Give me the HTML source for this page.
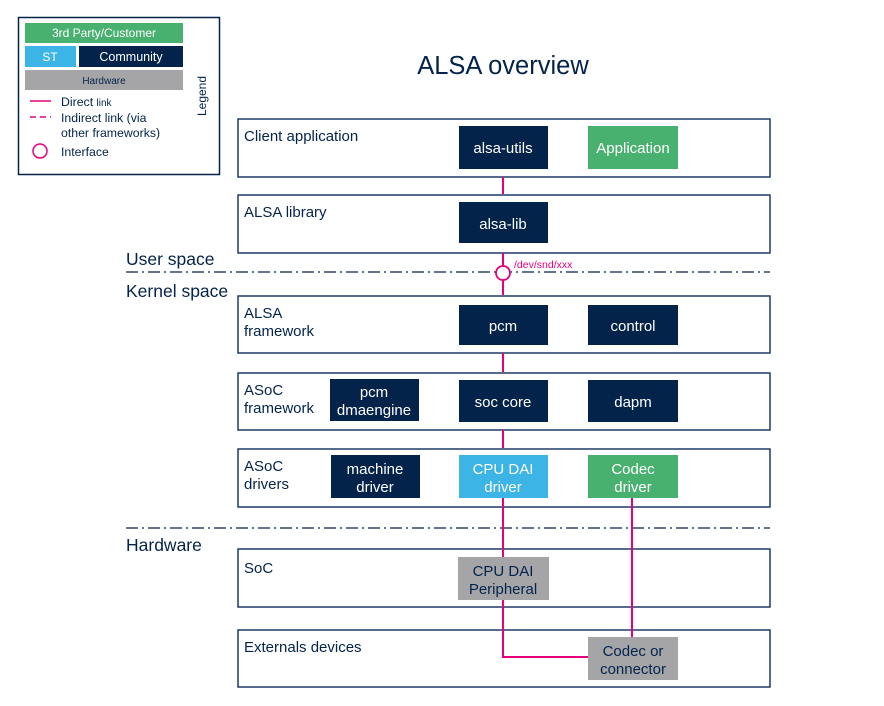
<!DOCTYPE html>
<html><head><meta charset="utf-8"><style>
body{margin:0;background:#fff;width:884px;height:701px;overflow:hidden}
svg text{font-family:"Liberation Sans",Arial,sans-serif}
</style></head><body>
<svg width="884" height="701" viewBox="0 0 884 701" xmlns="http://www.w3.org/2000/svg">
<!-- legend -->
<rect x="18.5" y="17.5" width="201" height="157" fill="#fff" stroke="#03234b" stroke-width="1.5"/>
<rect x="25" y="23" width="158" height="20" fill="#49b170"/>
<text x="104" y="37" font-size="12" fill="#fff" text-anchor="middle">3rd Party/Customer</text>
<rect x="25" y="46" width="51" height="21" fill="#3cb4e6"/>
<text x="50" y="61" font-size="12" fill="#fff" text-anchor="middle">ST</text>
<rect x="79" y="46" width="104" height="21" fill="#03234b"/>
<text x="131" y="61" font-size="12.5" fill="#fff" text-anchor="middle">Community</text>
<rect x="25" y="70" width="158" height="20" fill="#a5a5a8"/>
<text x="104" y="84" font-size="10" fill="#03234b" text-anchor="middle">Hardware</text>
<line x1="30" y1="101" x2="51" y2="101" stroke="#e6007e" stroke-width="1.5"/>
<text x="61" y="106" font-size="12.3" fill="#03234b">Direct <tspan font-size="10">link</tspan></text>
<line x1="30" y1="117" x2="51" y2="117" stroke="#e6007e" stroke-width="1.5" stroke-dasharray="6,4"/>
<text x="61" y="122" font-size="12.3" fill="#03234b">Indirect link (via</text>
<text x="61" y="137" font-size="12.3" fill="#03234b">other frameworks)</text>
<circle cx="40" cy="151" r="7" fill="none" stroke="#e6007e" stroke-width="1.5"/>
<text x="61" y="156" font-size="12.3" fill="#03234b">Interface</text>
<text transform="translate(206,96) rotate(-90)" font-size="12" fill="#03234b" text-anchor="middle">Legend</text>

<text x="503" y="74" font-size="25.5" fill="#03234b" text-anchor="middle">ALSA overview</text>

<!-- dividers -->
<g stroke="#03234b" stroke-width="1.2" stroke-dasharray="12,4,2,4">
<line x1="126" y1="272" x2="770" y2="272"/>
<line x1="126" y1="528" x2="770" y2="528"/>
</g>
<g font-size="17.5" fill="#03234b">
<text x="126" y="265">User space</text>
<text x="126" y="297">Kernel space</text>
<text x="126" y="551">Hardware</text>
</g>

<!-- layers -->
<g fill="#fff" stroke="#1f3b66" stroke-width="1.5">
<rect x="238" y="119" width="532" height="58"/>
<rect x="238" y="195" width="532" height="58"/>
<rect x="238" y="296" width="532" height="57"/>
<rect x="238" y="373" width="532" height="57"/>
<rect x="238" y="449" width="532" height="58"/>
<rect x="238" y="549" width="532" height="58"/>
<rect x="238" y="630" width="532" height="57"/>
</g>
<g font-size="15" fill="#03234b">
<text x="244" y="141">Client application</text>
<text x="244" y="217">ALSA library</text>
<text x="244" y="318">ALSA</text><text x="244" y="336">framework</text>
<text x="244" y="395">ASoC</text><text x="244" y="413">framework</text>
<text x="244" y="471">ASoC</text><text x="244" y="489">drivers</text>
<text x="244" y="573">SoC</text>
<text x="244" y="652">Externals devices</text>
</g>

<!-- connectors -->
<g stroke="#e6007e" stroke-width="2" fill="none">
<line x1="503" y1="177" x2="503" y2="194"/>
<line x1="503" y1="253" x2="503" y2="295"/>
<line x1="503" y1="353" x2="503" y2="372"/>
<line x1="503" y1="430" x2="503" y2="448"/>
<polyline points="503,497 503,657 588,657"/>
<line x1="632" y1="497" x2="632" y2="637"/>
</g>
<circle cx="503" cy="273" r="7" fill="#fff" stroke="#e6007e" stroke-width="1.8"/>
<text x="514" y="268" font-size="10.5" fill="#e6007e">/dev/snd/xxx</text>

<!-- boxes -->
<g>
<rect x="459" y="126" width="89" height="43" fill="#03234b"/>
<rect x="588" y="126" width="90" height="43" fill="#49b170"/>
<rect x="459" y="202" width="89" height="41" fill="#03234b"/>
<rect x="459" y="305" width="89" height="40" fill="#03234b"/>
<rect x="588" y="305" width="90" height="40" fill="#03234b"/>
<rect x="330" y="379" width="89" height="42" fill="#03234b"/>
<rect x="459" y="380" width="89" height="42" fill="#03234b"/>
<rect x="588" y="380" width="90" height="42" fill="#03234b"/>
<rect x="331" y="455" width="89" height="43" fill="#03234b"/>
<rect x="459" y="455" width="89" height="43" fill="#3cb4e6"/>
<rect x="588" y="455" width="90" height="43" fill="#49b170"/>
<rect x="458" y="557" width="91" height="43" fill="#a5a5a8"/>
<rect x="588" y="637" width="90" height="43" fill="#a5a5a8"/>
</g>
<g font-size="15" fill="#fff" text-anchor="middle">
<text x="503" y="153">alsa-utils</text>
<text x="633" y="153">Application</text>
<text x="503" y="229">alsa-lib</text>
<text x="503" y="331">pcm</text>
<text x="633" y="331">control</text>
<text x="374" y="397">pcm</text><text x="374" y="415">dmaengine</text>
<text x="503" y="407">soc core</text>
<text x="633" y="407">dapm</text>
<text x="375" y="474">machine</text><text x="375" y="492">driver</text>
<text x="503" y="474">CPU DAI</text><text x="503" y="492">driver</text>
<text x="633" y="474">Codec</text><text x="633" y="492">driver</text>
</g>
<g font-size="15" fill="#03234b" text-anchor="middle">
<text x="503" y="576">CPU DAI</text><text x="503" y="594">Peripheral</text>
<text x="633" y="656">Codec or</text><text x="633" y="674">connector</text>
</g>
</svg>
</body></html>
